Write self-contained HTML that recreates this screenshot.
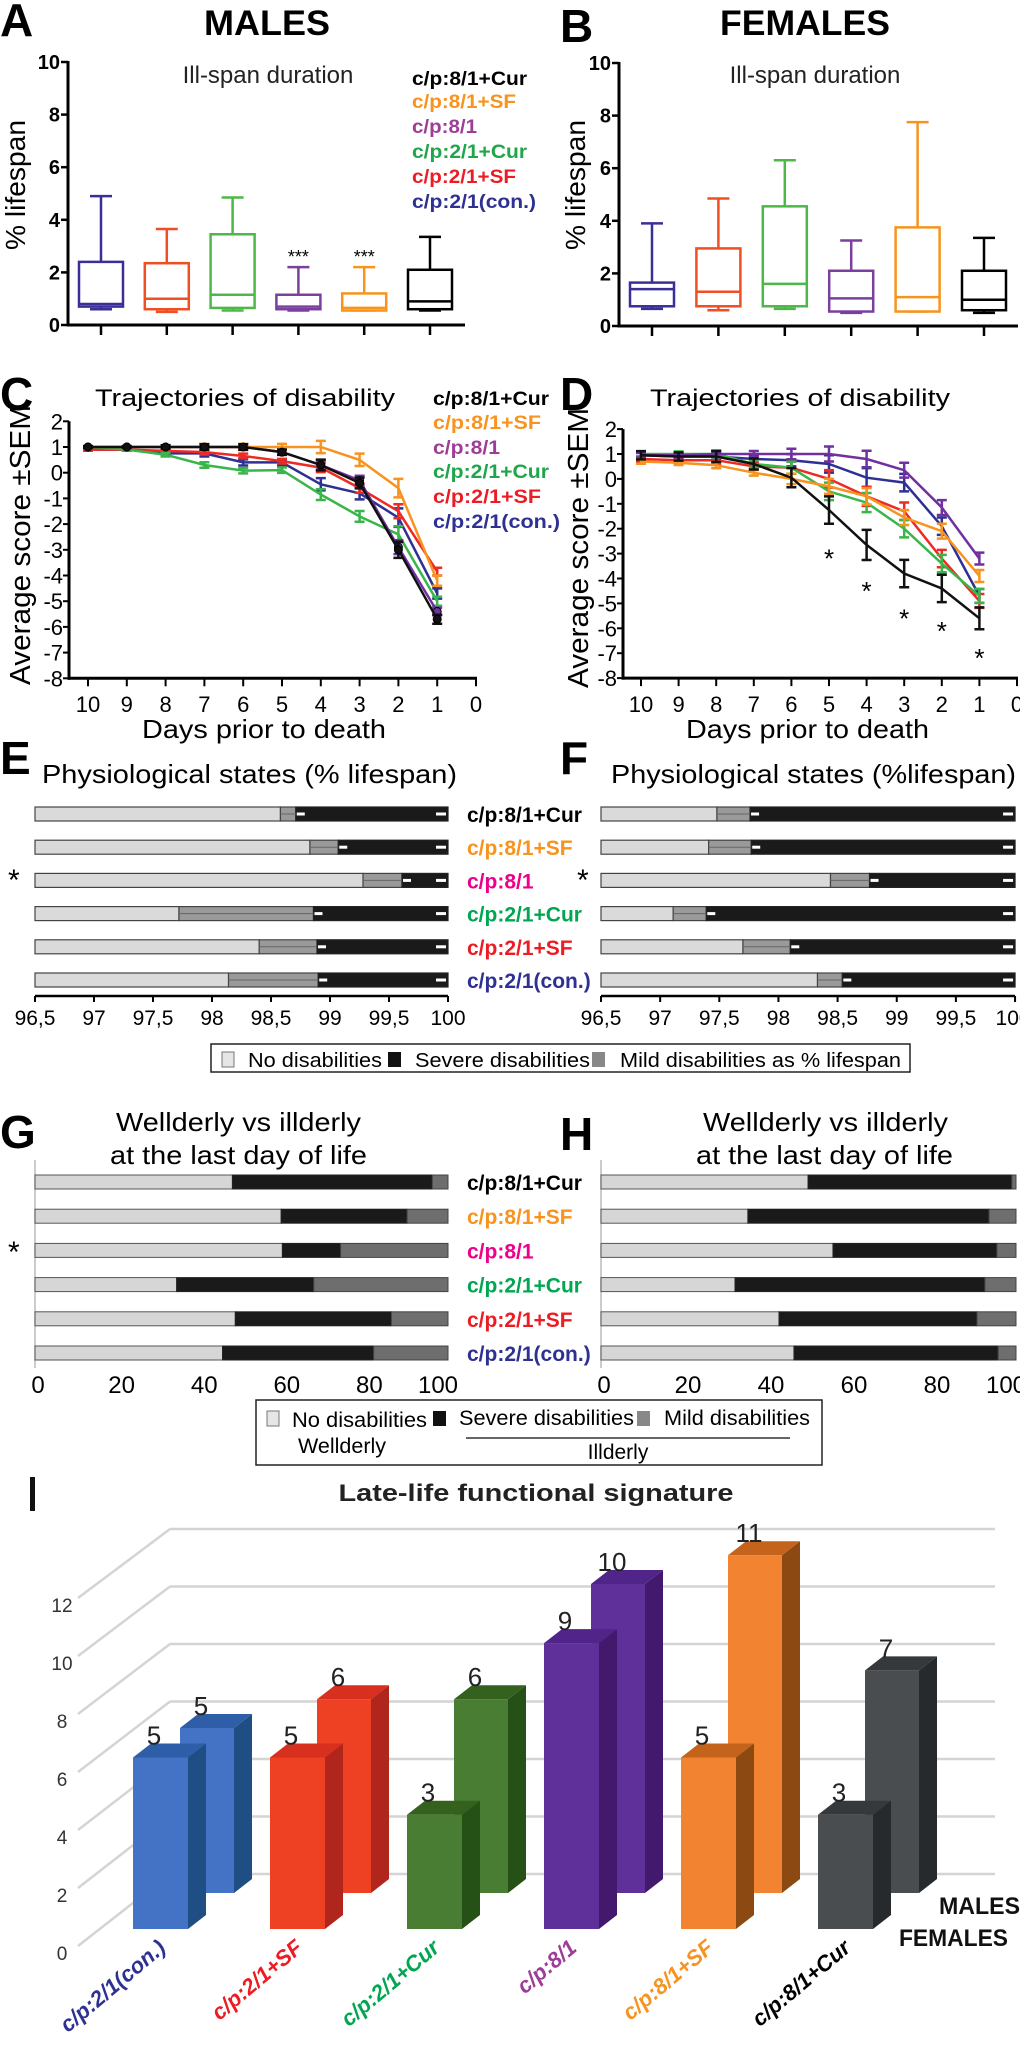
<!DOCTYPE html>
<html><head><meta charset="utf-8"><title>Figure</title>
<style>
html,body{margin:0;padding:0;background:#fff;}
svg{display:block;font-family:"Liberation Sans",sans-serif;}
.n{font-family:"Liberation Sans Narrow","Liberation Sans",sans-serif;}
</style></head>
<body>
<svg id="fig" width="1020" height="2055" viewBox="0 0 1020 2055" xmlns="http://www.w3.org/2000/svg">
<rect x="0" y="0" width="1020" height="2055" fill="#fff"/>
<text x="0" y="36" font-size="46" font-weight="bold">A</text>
<text x="204" y="35" font-size="35" font-weight="bold" textLength="126" lengthAdjust="spacingAndGlyphs">MALES</text>
<text x="560" y="42" font-size="46" font-weight="bold">B</text>
<text x="720" y="35" font-size="35" font-weight="bold" textLength="170" lengthAdjust="spacingAndGlyphs">FEMALES</text>
<text x="268" y="83" font-size="24" text-anchor="middle" fill="#222">Ill-span duration</text>
<text x="815" y="83" font-size="24" text-anchor="middle" fill="#222">Ill-span duration</text>
<g font-size="19" font-weight="bold">
<text x="412" y="85" fill="#000" textLength="115" lengthAdjust="spacingAndGlyphs">c/p:8/1+Cur</text>
<text x="412" y="108" fill="#f7931e" textLength="104" lengthAdjust="spacingAndGlyphs">c/p:8/1+SF</text>
<text x="412" y="133" fill="#9e3d97" textLength="65" lengthAdjust="spacingAndGlyphs">c/p:8/1</text>
<text x="412" y="158" fill="#1fa64a" textLength="115" lengthAdjust="spacingAndGlyphs">c/p:2/1+Cur</text>
<text x="412" y="183" fill="#ed1c24" textLength="104" lengthAdjust="spacingAndGlyphs">c/p:2/1+SF</text>
<text x="412" y="208" fill="#2e3192" textLength="124" lengthAdjust="spacingAndGlyphs">c/p:2/1(con.)</text>
</g>
<text transform="translate(25,185) rotate(-90)" font-size="28" text-anchor="middle" textLength="130" lengthAdjust="spacingAndGlyphs">% lifespan</text>
<text transform="translate(585,185) rotate(-90)" font-size="28" text-anchor="middle" textLength="130" lengthAdjust="spacingAndGlyphs">% lifespan</text>

<text x="0" y="410" font-size="46" font-weight="bold">C</text>
<text x="560" y="410" font-size="46" font-weight="bold">D</text>
<text x="95" y="406" font-size="24" class="n" textLength="300" lengthAdjust="spacingAndGlyphs">Trajectories of disability</text>
<text x="650" y="406" font-size="24" class="n" textLength="300" lengthAdjust="spacingAndGlyphs">Trajectories of disability</text>
<g font-size="19" font-weight="bold">
<text x="433" y="405" fill="#000" textLength="116" lengthAdjust="spacingAndGlyphs">c/p:8/1+Cur</text>
<text x="433" y="429" fill="#f7931e" textLength="108" lengthAdjust="spacingAndGlyphs">c/p:8/1+SF</text>
<text x="433" y="454" fill="#9e3d97" textLength="67" lengthAdjust="spacingAndGlyphs">c/p:8/1</text>
<text x="433" y="478" fill="#1fa64a" textLength="116" lengthAdjust="spacingAndGlyphs">c/p:2/1+Cur</text>
<text x="433" y="503" fill="#ed1c24" textLength="108" lengthAdjust="spacingAndGlyphs">c/p:2/1+SF</text>
<text x="433" y="528" fill="#2e3192" textLength="127" lengthAdjust="spacingAndGlyphs">c/p:2/1(con.)</text>
</g>
<text transform="translate(30,545) rotate(-90)" font-size="29" text-anchor="middle" textLength="280" lengthAdjust="spacingAndGlyphs">Average score ±SEM</text>
<text transform="translate(588,548) rotate(-90)" font-size="29" text-anchor="middle" textLength="280" lengthAdjust="spacingAndGlyphs">Average score ±SEM</text>
<text x="142" y="738" font-size="26" class="n" textLength="244" lengthAdjust="spacingAndGlyphs">Days prior to death</text>
<text x="686" y="738" font-size="26" class="n" textLength="243" lengthAdjust="spacingAndGlyphs">Days prior to death</text>

<text x="0" y="774" font-size="46" font-weight="bold">E</text>
<text x="560" y="774" font-size="46" font-weight="bold">F</text>
<text x="42" y="783" font-size="26" class="n" textLength="415" lengthAdjust="spacingAndGlyphs">Physiological states (% lifespan)</text>
<text x="611" y="783" font-size="26" class="n" textLength="405" lengthAdjust="spacingAndGlyphs">Physiological states (%lifespan)</text>
<text x="8" y="890" font-size="30">*</text>
<text x="577" y="890" font-size="30">*</text>
<g>
<rect x="211" y="1044" width="699" height="28" fill="#fff" stroke="#222" stroke-width="1.5"/>
<rect x="222" y="1052" width="12" height="15" fill="#e6e6e6" stroke="#777"/>
<text x="248" y="1067" font-size="20" class="n" textLength="134" lengthAdjust="spacingAndGlyphs">No disabilities</text>
<rect x="388" y="1052" width="13" height="15" fill="#111"/>
<text x="415" y="1067" font-size="20" class="n" textLength="175" lengthAdjust="spacingAndGlyphs">Severe disabilities</text>
<rect x="592" y="1052" width="13" height="15" fill="#888"/>
<text x="620" y="1067" font-size="20" class="n" textLength="281" lengthAdjust="spacingAndGlyphs">Mild disabilities as % lifespan</text>
</g>

<text x="0" y="1148" font-size="46" font-weight="bold">G</text>
<text x="560" y="1150" font-size="46" font-weight="bold">H</text>
<text x="116" y="1131" font-size="26" class="n" textLength="245" lengthAdjust="spacingAndGlyphs">Wellderly vs illderly</text>
<text x="110" y="1164" font-size="26" class="n" textLength="257" lengthAdjust="spacingAndGlyphs">at the last day of life</text>
<text x="703" y="1131" font-size="26" class="n" textLength="245" lengthAdjust="spacingAndGlyphs">Wellderly vs illderly</text>
<text x="696" y="1164" font-size="26" class="n" textLength="257" lengthAdjust="spacingAndGlyphs">at the last day of life</text>
<text x="8" y="1262" font-size="30">*</text>
<g>
<rect x="256" y="1400" width="566" height="65" fill="#fff" stroke="#222" stroke-width="1.5"/>
<rect x="267" y="1411" width="12" height="15" fill="#e6e6e6" stroke="#777"/>
<text x="292" y="1427" font-size="21" class="n" textLength="135" lengthAdjust="spacingAndGlyphs">No disabilities</text>
<text x="298" y="1453" font-size="21" class="n" textLength="88" lengthAdjust="spacingAndGlyphs">Wellderly</text>
<rect x="433" y="1411" width="13" height="15" fill="#111"/>
<text x="459" y="1425" font-size="21" class="n" textLength="175" lengthAdjust="spacingAndGlyphs">Severe disabilities</text>
<rect x="637" y="1411" width="13" height="15" fill="#888"/>
<text x="664" y="1425" font-size="21" class="n" textLength="146" lengthAdjust="spacingAndGlyphs">Mild disabilities</text>
<line x1="466" y1="1438" x2="790" y2="1438" stroke="#333" stroke-width="1.5"/>
<text x="618" y="1459" font-size="21" class="n" text-anchor="middle">Illderly</text>
</g>

<rect x="30" y="1477" width="5" height="34" fill="#111"/>
<text x="536" y="1501" font-size="24" font-weight="bold" class="n" text-anchor="middle" textLength="395" lengthAdjust="spacingAndGlyphs" fill="#222">Late-life functional signature</text>
<g id="iGrid"></g>
<g id="marks"></g>
<text x="939" y="1914" font-size="24" font-weight="bold" class="n" textLength="81" lengthAdjust="spacingAndGlyphs" fill="#111">MALES</text>
<text x="899" y="1946" font-size="24" font-weight="bold" class="n" textLength="109" lengthAdjust="spacingAndGlyphs" fill="#111">FEMALES</text>
</svg>
<script>
const boxCats = ['c/p:2/1(con.)','c/p:2/1+SF','c/p:2/1+Cur','c/p:8/1','c/p:8/1+SF','c/p:8/1+Cur'];
const maleMin = [0.6,0.5,0.55,0.55,0.55,0.55];
const maleQ1  = [0.7,0.6,0.65,0.6,0.55,0.6];
const maleMed = [0.8,1.0,1.15,0.7,0.65,0.9];
const maleQ3  = [2.4,2.35,3.45,1.15,1.2,2.1];
const maleMax = [4.9,3.65,4.85,2.2,2.2,3.35];
const maleSig = ['','','','***','***',''];
const femMin = [0.65,0.6,0.65,0.5,0.55,0.5];
const femQ1  = [0.75,0.75,0.75,0.55,0.55,0.6];
const femMed = [1.4,1.3,1.6,1.05,1.1,1.0];
const femQ3  = [1.65,2.95,4.55,2.1,3.75,2.1];
const femMax = [3.9,4.85,6.3,3.25,7.75,3.35];
const boxTicks = [0,2,4,6,8,10];

const days = [10,9,8,7,6,5,4,3,2,1];
const dayTicks = [10,9,8,7,6,5,4,3,2,1,0];
const scoreTicks = [2,1,0,-1,-2,-3,-4,-5,-6,-7,-8];
const lineSeries = ['con','2/1+SF','2/1+Cur','8/1','8/1+SF','8/1+Cur'];
const cCon   = [0.9,0.9,0.75,0.75,0.4,0.4,-0.45,-0.8,-1.75,-4.7];
const cSF21  = [0.9,0.9,0.85,0.8,0.65,0.45,0.2,-0.6,-1.5,-3.85];
const cCur21 = [1,0.9,0.7,0.3,0.08,0.1,-0.85,-1.7,-2.4,-5.0];
const c81    = [1,1,1,1,1,0.8,0.3,-0.3,-2.9,-5.4];
const cSF81  = [1,1,1,1,1,1,1,0.5,-0.6,-4.2];
const cCur81 = [1,1,1,1,1,0.8,0.3,-0.4,-3.0,-5.7];
const cSem   = [0.05,0.05,0.1,0.15,0.15,0.15,0.3,0.3,0.45,0.25];
const dCon   = [0.95,0.9,0.9,0.8,0.75,0.6,0.05,-0.15,-1.9,-4.7];
const dSF21  = [0.8,0.75,0.75,0.5,0.45,0.0,-0.7,-1.3,-3.2,-4.9];
const dCur21 = [1,1,1,0.6,0.45,-0.5,-0.95,-2.0,-3.4,-4.7];
const d81    = [0.95,0.95,1,1,1,1,0.8,0.35,-1.15,-3.2];
const dSF81  = [0.7,0.65,0.55,0.25,0.0,-0.3,-0.7,-1.55,-2.1,-3.9];
const dCur81 = [0.95,0.9,0.9,0.6,0.05,-1.25,-2.65,-3.8,-4.4,-5.6];
const dSem   = [0.15,0.15,0.2,0.2,0.35,0.5,0.55,0.5,0.5,0.4];
const dStarDays = [5,4,3,2,1];
const dStarVals = [-3.0,-4.3,-5.4,-5.9,-7.0];

const rowCats = ['c/p:8/1+Cur','c/p:8/1+SF','c/p:8/1','c/p:2/1+Cur','c/p:2/1+SF','c/p:2/1(con.)'];
const eNoDis   = [98.58,98.83,99.28,97.72,98.40,98.14];
const eMildEnd = [98.71,99.07,99.61,98.86,98.89,98.90];
const fNoDis   = [97.48,97.41,98.44,97.11,97.70,98.33];
const fMildEnd = [97.76,97.77,98.77,97.39,98.10,98.54];
const pctTicks = [96.5,97,97.5,98,98.5,99,99.5,100];
const pctTickLabels = ['96,5','97','97,5','98','98,5','99','99,5','100'];
const gNoDis  = [47.8,59.6,59.9,34.3,48.5,45.4];
const gSevEnd = [96.2,90.1,74.0,67.5,86.3,82.0];
const hNoDis  = [49.9,35.4,55.9,32.3,42.9,46.5];
const hSevEnd = [99.0,93.5,95.4,92.5,90.6,95.7];
const gTicks = [0,20,40,60,80,100];

const sigCats = ['c/p:2/1(con.)','c/p:2/1+SF','c/p:2/1+Cur','c/p:8/1','c/p:8/1+SF','c/p:8/1+Cur'];
const sigMales = [5,5,3,9,5,3];
const sigFemales = [5,6,6,10,11,7];
const sigTicks = [0,2,4,6,8,10,12];

const boxColors = ['#3a2f96','#f04e23','#4db848','#7b3f9e','#f7941d','#000000'];
const lineColors = ['#2e3192','#ee2a24','#39b54a','#7030a0','#f7931e','#111111'];
const rowColors = ['#000000','#f7931e','#ec008c','#00a651','#ed1c24','#2e3192'];
const sigFront = ['#4472c4','#ee4023','#4a7d34','#60309a','#f28330','#4a4d4f'];
const sigSide  = ['#1f4e85','#b0261c','#255016','#43196e','#8c4a12','#262a2c'];
const sigTop   = ['#2f5ea8','#d8301e','#35611f','#51248a','#c4631c','#35393b'];
const sigLabelColors = ['#2e3192','#ed1c24','#00a651','#9e3d97','#f7931e','#000000'];

const NS = 'http://www.w3.org/2000/svg';
const root = document.getElementById('marks');
function mk(tag, attrs, parent){
  const e = document.createElementNS(NS, tag);
  for (const k in attrs) e.setAttribute(k, attrs[k]);
  (parent || root).appendChild(e);
  return e;
}

function boxPanel(p, mins, q1s, meds, q3s, maxs, sigs){
  const y = v => p.y0 - v * p.unit;
  const x = i => p.x0 + i * p.step;
  let el;
  el = mk('line', {x1:p.ax, y1:y(10)-1, x2:p.ax, y2:y(0)+1.5, stroke:'#000', 'stroke-width':3});
  
  
  el = mk('line', {x1:p.ax-1.5, y1:y(0), x2:p.xEnd, y2:y(0), stroke:'#000', 'stroke-width':3});
  
  
  boxTicks.forEach(t => {
    let tk = mk('line', {x1:p.ax-7, y1:y(t), x2:p.ax, y2:y(t), stroke:'#000', 'stroke-width':2.5});
    
    
    let tl = mk('text', {x:p.ax-8, y:y(t)+7, 'font-size':20, 'font-weight':'bold', 'text-anchor':'end'});
    tl.textContent = String(t);
    
    
  });
  boxCats.forEach((c, i) => {
    const cx = x(i), col = boxColors[i], hw = 22, cw = 11;
    let g = mk('g', {});
    
    
    let t = mk('line', {x1:cx, y1:y(0), x2:cx, y2:y(0)+10, stroke:'#000', 'stroke-width':2.5}, g);
    
    
    let w1 = mk('line', {x1:cx, y1:y(q3s[i]), x2:cx, y2:y(maxs[i]), stroke:col, 'stroke-width':2.5}, g);
    
    
    let c1 = mk('line', {x1:cx-cw, y1:y(maxs[i]), x2:cx+cw, y2:y(maxs[i]), stroke:col, 'stroke-width':2.5}, g);
    
    
    let w2 = mk('line', {x1:cx, y1:y(q1s[i]), x2:cx, y2:y(mins[i]), stroke:col, 'stroke-width':2.5}, g);
    
    
    let c2 = mk('line', {x1:cx-cw, y1:y(mins[i]), x2:cx+cw, y2:y(mins[i]), stroke:col, 'stroke-width':2.5}, g);
    
    
    let r = mk('rect', {x:cx-hw, y:y(q3s[i]), width:2*hw, height:Math.max(1, y(q1s[i])-y(q3s[i])), fill:'#fff', stroke:col, 'stroke-width':2.5}, g);
    
    
    let m = mk('line', {x1:cx-hw, y1:y(meds[i]), x2:cx+hw, y2:y(meds[i]), stroke:col, 'stroke-width':2.5}, g);
    
    
    if (sigs && sigs[i]) {
      let s = mk('text', {x:cx, y:y(maxs[i])-4, 'font-size':18, 'text-anchor':'middle'}, g);
      s.textContent = sigs[i];
      
      
    }
  });
}
boxPanel({id:'a', ax:68, y0:325, unit:26.3, x0:101, step:65.8, xEnd:465}, maleMin, maleQ1, maleMed, maleQ3, maleMax, maleSig);
boxPanel({id:'b', ax:619, y0:326, unit:26.3, x0:652, step:66.4, xEnd:1018}, femMin, femQ1, femMed, femQ3, femMax, null);

function linePanel(p, seriesList, sem){
  const y = v => p.y1 - (v - 1) * p.unit;
  const x = d => p.x10 + (10 - d) * p.dstep;
  let el;
  el = mk('line', {x1:p.ax, y1:y(2), x2:p.ax, y2:y(-8)+1.5, stroke:'#000', 'stroke-width':3});
  
  
  el = mk('line', {x1:p.ax-1.5, y1:y(-8), x2:x(0)+1, y2:y(-8), stroke:'#000', 'stroke-width':3});
  
  
  scoreTicks.forEach(t => {
    let tk = mk('line', {x1:p.ax-6, y1:y(t), x2:p.ax, y2:y(t), stroke:'#000', 'stroke-width':2});
    
    
    let tl = mk('text', {x:p.ax-6, y:y(t)+8, 'font-size':22, 'text-anchor':'end', class:'n'});
    tl.textContent = String(t);
    
    
  });
  dayTicks.forEach(d => {
    let tk = mk('line', {x1:x(d), y1:y(-8), x2:x(d), y2:y(-8)+8, stroke:'#000', 'stroke-width':2});
    
    
    let tl = mk('text', {x:x(d), y:712, 'font-size':22, 'text-anchor':'middle', class:'n'});
    tl.textContent = String(d);
    
    
  });
  seriesList.forEach((vals, si) => {
    const col = lineColors[si];
    let g = mk('g', {});
    
    
    const pts = days.map((d, k) => x(d).toFixed(1) + ',' + y(vals[k]).toFixed(1)).join(' ');
    let pl = mk('polyline', {points:pts, fill:'none', stroke:col, 'stroke-width':2.5}, g);
    
    
    days.forEach((d, k) => {
      const e = sem[k] * p.semScale[si];
      let eb = mk('path', {d:'M'+(x(d)-5)+','+y(vals[k]+e)+'h10M'+x(d)+','+y(vals[k]+e)+'V'+y(vals[k]-e)+'M'+(x(d)-5)+','+y(vals[k]-e)+'h10', stroke:col, 'stroke-width':2.5, fill:'none'}, g);
      
      
      if (p.markers && (si === 5 || si === 3) ) {
        let mc = mk('circle', {cx:x(d), cy:y(vals[k]), r:4, fill:col, stroke:'#000', 'stroke-width':1}, g);
        
        
      }
    });
  });
  return {x, y};
}
linePanel({id:'c', ax:69, y1:447, unit:25.7, x10:88, dstep:38.8, markers:true, semScale:[0.8,0.6,0.7,0.6,0.8,0.7]}, [cCon,cSF21,cCur21,c81,cSF81,cCur81], cSem);
const dAx = linePanel({id:'d', ax:623, y1:454, unit:24.9, x10:641, dstep:37.6, markers:false, semScale:[0.7,0.7,0.7,0.6,0.6,1.1]}, [dCon,dSF21,dCur21,d81,dSF81,dCur81], dSem);
dStarDays.forEach((d, k) => {
  let s = mk('text', {x:dAx.x(d), y:dAx.y(dStarVals[k])+14, 'font-size':26, 'text-anchor':'middle'});
  s.textContent = '*';
  
  
});

function statePanel(p, noDis, mildEnd){
  const x = v => p.x0 + (v - 96.5) * p.unit;
  rowCats.forEach((c, i) => {
    const top = 807 + i * 33.2, h = 14;
    let g = mk('g', {});
    
    
    let r1 = mk('rect', {x:x(96.5), y:top, width:x(noDis[i])-x(96.5), height:h, fill:'#dadada', stroke:'#444', 'stroke-width':1.2}, g);
    
    
    let r2 = mk('rect', {x:x(noDis[i]), y:top, width:x(mildEnd[i])-x(noDis[i]), height:h, fill:'#9a9a9a', stroke:'#444', 'stroke-width':1.2}, g);
    
    
    let r3 = mk('rect', {x:x(mildEnd[i]), y:top, width:x(100)-x(mildEnd[i]), height:h, fill:'#1a1a1a', stroke:'#222', 'stroke-width':1.2}, g);
    
    
    let w1 = mk('line', {x1:x(mildEnd[i])+1, y1:top+h/2, x2:x(mildEnd[i])+9, y2:top+h/2, stroke:'#fff', 'stroke-width':3}, g);
    
    
    let w2 = mk('line', {x1:x(100)-12, y1:top+h/2, x2:x(100)-2, y2:top+h/2, stroke:'#fff', 'stroke-width':3}, g);
    
    
    let w3 = mk('line', {x1:x(noDis[i]), y1:top+h/2, x2:x(mildEnd[i]), y2:top+h/2, stroke:'#666', 'stroke-width':1}, g);
    
    
    if (p.labels) {
      let t = mk('text', {x:467, y:top+h/2+8, 'font-size':21, 'font-weight':'bold', fill:rowColors[i], class:'n'}, g);
      t.textContent = c;
      
      
    }
  });
  let ax = mk('line', {x1:x(96.5), y1:996, x2:x(100), y2:996, stroke:'#000', 'stroke-width':2.5});
  
  
  pctTicks.forEach((t, k) => {
    let tk = mk('line', {x1:x(t), y1:996, x2:x(t), y2:1002, stroke:'#000', 'stroke-width':2});
    
    
    let tl = mk('text', {x:x(t)+(t===100?p.lastShift:0), y:1025, 'font-size':21, 'text-anchor':'middle', class:'n'});
    tl.textContent = pctTickLabels[k];
    
    
  });
}
statePanel({id:'e', x0:35, unit:118, labels:true, lastShift:0}, eNoDis, eMildEnd);
statePanel({id:'f', x0:601, unit:118.3, labels:false, lastShift:-2}, fNoDis, fMildEnd);

function wellPanel(p, noDis, sevEnd){
  const x = v => p.x0 + v * p.unit;
  let vax = mk('line', {x1:x(0), y1:1160, x2:x(0), y2:1368, stroke:'#bbb', 'stroke-width':1.5});
  
  
  rowCats.forEach((c, i) => {
    const top = 1175 + i * 34.2, h = 14;
    let g = mk('g', {});
    
    
    let r1 = mk('rect', {x:x(0), y:top, width:x(noDis[i])-x(0), height:h, fill:'#d6d6d6', stroke:'#555', 'stroke-width':1}, g);
    
    
    let r2 = mk('rect', {x:x(noDis[i]), y:top, width:x(sevEnd[i])-x(noDis[i]), height:h, fill:'#1a1a1a', stroke:'#222', 'stroke-width':1}, g);
    
    
    let r3 = mk('rect', {x:x(sevEnd[i]), y:top, width:x(100)-x(sevEnd[i]), height:h, fill:'#6e6e6e', stroke:'#444', 'stroke-width':1}, g);
    
    
    if (p.labels) {
      let t = mk('text', {x:467, y:top+h/2+8, 'font-size':21, 'font-weight':'bold', fill:rowColors[i], class:'n'}, g);
      t.textContent = c;
      
      
    }
  });
  gTicks.forEach(t => {
    let tl = mk('text', {x:x(t)+p.labelShift(t), y:1393, 'font-size':24, 'text-anchor':'middle', class:'n'});
    tl.textContent = String(t);
    
    
  });
}
wellPanel({id:'g', x0:35, unit:4.13, labels:true, labelShift:t => t===0?3:(t===100?-10:4)}, gNoDis, gSevEnd);
wellPanel({id:'h', x0:601, unit:4.15, labels:false, labelShift:t => t===0?3:(t===100?-10:4)}, hNoDis, hSevEnd);

const grid = document.getElementById('iGrid');
const backY = v => 1874 - 28.75 * v;
const frontY = v => 1946 - 29 * v;
const maleTop = v => 1900.5 - 28.6 * v;
const femTop = v => 1872 - 28.8 * v;
sigTicks.forEach(t => {
  let gl = mk('line', {x1:170, y1:backY(t), x2:995, y2:backY(t), stroke:'#d4d4d4', 'stroke-width':2.5}, grid);
  
  
  let dl = mk('line', {x1:78, y1:frontY(t), x2:170, y2:backY(t), stroke:'#d4d4d4', 'stroke-width':2.5}, grid);
  
  
  let tl = mk('text', {x:62, y:frontY(t)+14, 'font-size':19, 'text-anchor':'middle', fill:'#333', class:'n'}, grid);
  tl.textContent = String(t);
  
  
});
function bar3d(xl, w, top, base, i, name, val){
  const dx = 18, dy = 14;
  let g = mk('g', {});
  
  
  let side = mk('polygon', {points:[[xl+w,top],[xl+w+dx,top-dy],[xl+w+dx,base-dy],[xl+w,base]].map(p=>p.join(',')).join(' '), fill:sigSide[i]}, g);
  
  
  let tp = mk('polygon', {points:[[xl,top],[xl+dx,top-dy],[xl+w+dx,top-dy],[xl+w,top]].map(p=>p.join(',')).join(' '), fill:sigTop[i]}, g);
  
  
  let fr = mk('rect', {x:xl, y:top, width:w, height:base-top, fill:sigFront[i]}, g);
  
  
  let lb = mk('text', {x:xl+21, y:top-13, 'font-size':26, 'text-anchor':'middle', fill:'#222', class:'n'}, g);
  lb.textContent = String(val);
  
  
}
sigCats.forEach((c, i) => {
  bar3d(180 + 137 * i, 54, femTop(sigFemales[i]), 1893, i, 'i-bar-female-' + i, sigFemales[i]);
});
sigCats.forEach((c, i) => {
  bar3d(133 + 137 * i, 55, maleTop(sigMales[i]), 1929, i, 'i-bar-male-' + i, sigMales[i]);
  let cl = mk('text', {transform:'translate(' + (167 + 137 * i) + ',1950) rotate(-40)', 'font-size':22, 'font-weight':'bold', 'font-style':'italic', 'text-anchor':'end', fill:sigLabelColors[i]});
  cl.textContent = c;
  
  
});
</script>
</body></html>
